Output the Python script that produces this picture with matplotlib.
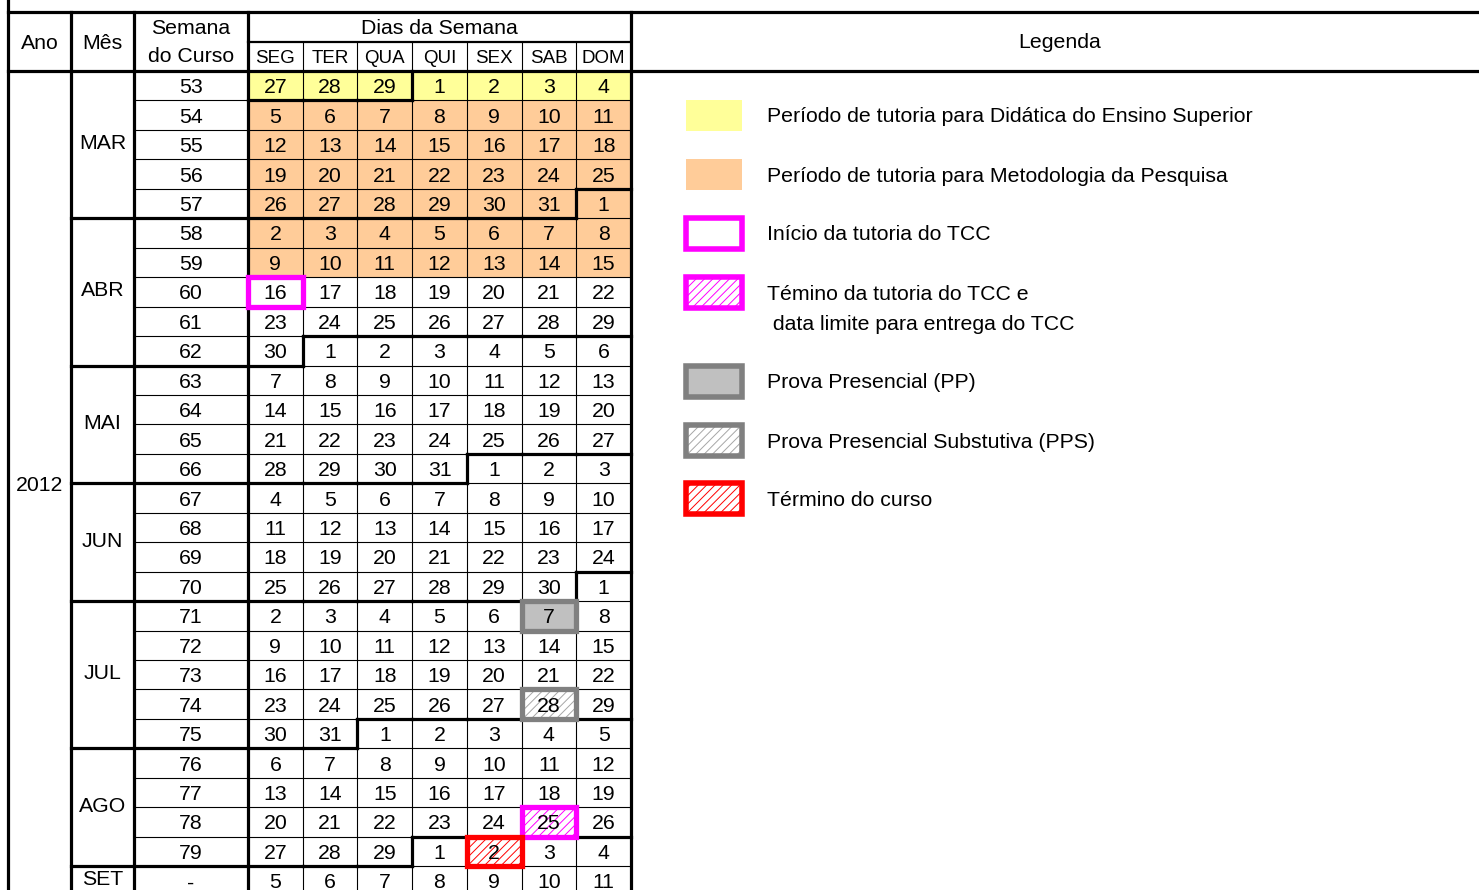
import matplotlib
matplotlib.use("Agg")
import matplotlib.pyplot as plt
from matplotlib.patches import Rectangle

plt.rcParams['font.family'] = ['Liberation Sans', 'DejaVu Sans']
plt.rcParams['hatch.linewidth'] = 0.7

# ---- data ----
year = "2012"
weeks = ["53", "54", "55", "56", "57", "58", "59", "60", "61", "62", "63", "64", "65", "66",
         "67", "68", "69", "70", "71", "72", "73", "74", "75", "76", "77", "78", "79", "-"]
months = ["MAR", "ABR", "MAI", "JUN", "JUL", "AGO", "SET"]
month_rows = [5, 5, 4, 4, 5, 4, 1]
day_names = ["SEG", "TER", "QUA", "QUI", "SEX", "SAB", "DOM"]
days = [
    [27, 28, 29, 1, 2, 3, 4],
    [5, 6, 7, 8, 9, 10, 11],
    [12, 13, 14, 15, 16, 17, 18],
    [19, 20, 21, 22, 23, 24, 25],
    [26, 27, 28, 29, 30, 31, 1],
    [2, 3, 4, 5, 6, 7, 8],
    [9, 10, 11, 12, 13, 14, 15],
    [16, 17, 18, 19, 20, 21, 22],
    [23, 24, 25, 26, 27, 28, 29],
    [30, 1, 2, 3, 4, 5, 6],
    [7, 8, 9, 10, 11, 12, 13],
    [14, 15, 16, 17, 18, 19, 20],
    [21, 22, 23, 24, 25, 26, 27],
    [28, 29, 30, 31, 1, 2, 3],
    [4, 5, 6, 7, 8, 9, 10],
    [11, 12, 13, 14, 15, 16, 17],
    [18, 19, 20, 21, 22, 23, 24],
    [25, 26, 27, 28, 29, 30, 1],
    [2, 3, 4, 5, 6, 7, 8],
    [9, 10, 11, 12, 13, 14, 15],
    [16, 17, 18, 19, 20, 21, 22],
    [23, 24, 25, 26, 27, 28, 29],
    [30, 31, 1, 2, 3, 4, 5],
    [6, 7, 8, 9, 10, 11, 12],
    [13, 14, 15, 16, 17, 18, 19],
    [20, 21, 22, 23, 24, 25, 26],
    [27, 28, 29, 1, 2, 3, 4],
    [5, 6, 7, 8, 9, 10, 11],
]
yellow_rows = [0]
peach_rows = [1, 2, 3, 4, 5, 6]
# special cells: (row, col, kind)
special = [(7, 0, "inicio"), (18, 5, "pp"), (21, 5, "pps"), (25, 5, "termino_tcc"), (26, 4, "fim")]
legend_labels = [
    "Período de tutoria para Didática do Ensino Superior",
    "Período de tutoria para Metodologia da Pesquisa",
    "Início da tutoria do TCC",
    "Témino da tutoria do TCC e\n data limite para entrega do TCC",
    "Prova Presencial (PP)",
    "Prova Presencial Substutiva (PPS)",
    "Término do curso",
]
legend_kinds = ["yellow", "peach", "inicio", "termino_tcc", "pp", "pps", "fim"]

YELLOW = "#FFFF99"
PEACH = "#FFCC99"
MAGENTA = "#FF00FF"
GREY = "#808080"
RED = "#FF0000"
styles = {
    "yellow": dict(fill=YELLOW, border=None, hatch=None),
    "peach": dict(fill=PEACH, border=None, hatch=None),
    "inicio": dict(fill="white", border=MAGENTA, hatch=None),
    "termino_tcc": dict(fill="white", border=MAGENTA, hatch=MAGENTA),
    "pp": dict(fill="#C0C0C0", border=GREY, hatch=None),
    "pps": dict(fill="white", border=GREY, hatch="#A6A6A6"),
    "fim": dict(fill="white", border=RED, hatch=RED),
}

# ---- layout ----
W, H = 1479, 890
fig = plt.figure(figsize=(W / 100, H / 100), dpi=100)
ax = fig.add_axes([0, 0, 1, 1])
ax.set_xlim(0, W)
ax.set_ylim(H, 0)
ax.axis("off")

thick = 2.3
thin = 0.8
fs = 15.3
dy = 2.0  # text baseline nudge
x_left, x_ano, x_mes, x_sem = 8, 71, 134, 248
x_right = 631
cw = (x_right - x_sem) / 7.0
y_top, y_mid, y_head = 12, 42, 71
rh = 29.45
nrows = len(weeks)

def colx(c):
    return x_sem + c * cw

def rowy(r):
    return y_head + r * rh

def line(x0, y0, x1, y1, lw, z=3, color="black"):
    ax.plot([x0, x1], [y0, y1], color=color, lw=lw, zorder=z, solid_capstyle="projecting")

def txt(x, y, s, size=fs, ha="center"):
    ax.text(x, y + dy, s, ha=ha, va="center", fontsize=size, zorder=5)

def draw_cell(x, y, w, h, kind, lw_border=3.8):
    st = styles[kind]
    ax.add_patch(Rectangle((x, y), w, h, facecolor=st["fill"], edgecolor="none", lw=0, zorder=1))
    if st["hatch"]:
        ax.add_patch(Rectangle((x, y), w, h, facecolor="none", edgecolor=st["hatch"],
                               lw=0, hatch="////", zorder=1.5))
    if st["border"]:
        ax.add_patch(Rectangle((x, y), w, h, facecolor="none", edgecolor=st["border"],
                               lw=lw_border, zorder=4, joinstyle="miter"))

# fills
for r in yellow_rows:
    for c in range(7):
        draw_cell(colx(c), rowy(r), cw, rh, "yellow")
for r in peach_rows:
    for c in range(7):
        draw_cell(colx(c), rowy(r), cw, rh, "peach")
for r, c, kind in special:
    draw_cell(colx(c), rowy(r), cw, rh, kind)

# header frame
line(x_left, y_top, W, y_top, thick)
line(x_left, 0, x_left, H, thick)
line(x_left, y_head, W, y_head, thick)
line(x_sem, y_mid, x_right, y_mid, 1.6)
for x in (x_ano, x_mes, x_sem, x_right):
    line(x, y_top, x, H, thick)
for c in range(1, 7):
    line(colx(c), y_mid, colx(c), y_head, thin, z=2)

txt((x_left + x_ano) / 2, (y_top + y_head) / 2, "Ano")
txt((x_ano + x_mes) / 2, (y_top + y_head) / 2, "Mês")
txt((x_mes + x_sem) / 2, 27, "Semana")
txt((x_mes + x_sem) / 2, 54, "do Curso")
txt((x_sem + x_right) / 2, 26, "Dias da Semana")
for c, name in enumerate(day_names):
    txt(colx(c) + cw / 2, 56.5, name, size=13.5)
txt(1060, 40, "Legenda")

# year + months
txt((x_left + x_ano) / 2, rowy(nrows / 2.0), year)
r0 = 0
for m, n in zip(months, month_rows):
    txt((x_ano + x_mes) / 2, rowy(r0 + n / 2.0) - 3, m)
    if r0 > 0:
        line(x_ano, rowy(r0), x_sem, rowy(r0), thick)
    for k in range(1, n):
        line(x_mes, rowy(r0 + k), x_sem, rowy(r0 + k), thin, z=2)
    r0 += n

# week numbers
for r, w in enumerate(weeks):
    txt((x_mes + x_sem) / 2, rowy(r) + rh / 2, w)

# day grid: month index per cell
mon = []
cur = 0
for row in days:
    mrow = []
    for d in row:
        if d == 1:
            cur += 1
        mrow.append(cur)
    mon.append(mrow)

for r in range(1, nrows):
    line(x_sem, rowy(r), x_right, rowy(r), thin, z=2)
for c in range(1, 7):
    line(colx(c), rowy(0), colx(c), H, thin, z=2)

for r in range(nrows):
    for c in range(7):
        txt(colx(c) + cw / 2, rowy(r) + rh / 2, str(days[r][c]))
        if c < 6 and mon[r][c] != mon[r][c + 1]:
            line(colx(c + 1), rowy(r), colx(c + 1), rowy(r + 1), thick)
        if r < nrows - 1 and mon[r][c] != mon[r + 1][c]:
            line(colx(c), rowy(r + 1), colx(c + 1), rowy(r + 1), thick)

# legend
leg_y = [115, 174, 233, 292, 381, 440, 498]
sw_x, sw_w, sw_h = 686, 56, 31
for y, lab, kind in zip(leg_y, legend_labels, legend_kinds):
    draw_cell(sw_x, y - sw_h / 2, sw_w, sw_h, kind, lw_border=4.0)
    for k, t in enumerate(lab.split("\n")):
        txt(767, y + k * 30, t, ha="left")

fig.savefig("out.png", dpi=100)
